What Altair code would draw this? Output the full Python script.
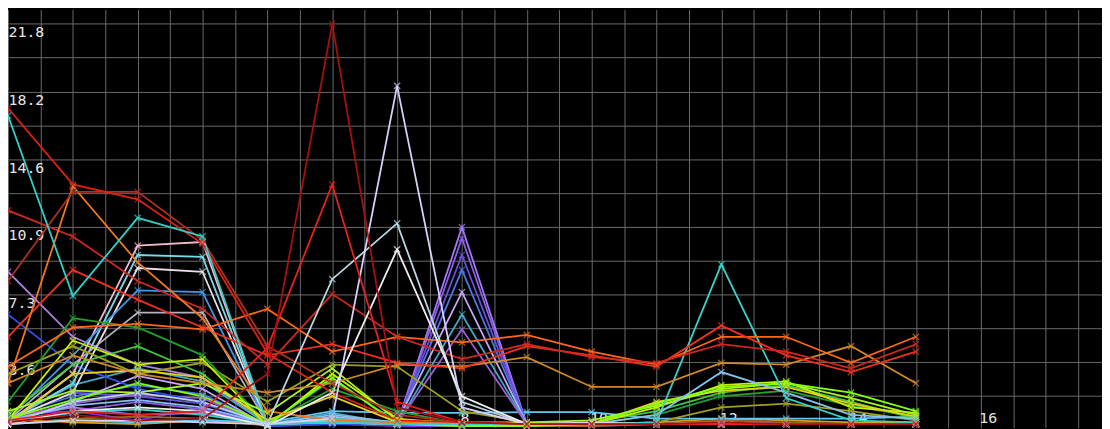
import altair as alt
import pandas as pd

# x positions (category index 1..15)
x_values = list(range(1, 16))

# tick labels shown in the picture
x_tick_labels = ["2", "4", "6", "8", "10", "12", "14", "16"]
y_tick_labels = ["3.6", "7.3", "10.9", "14.6", "18.2", "21.8"]

# ---- series values ----
red_tall      = [0.4, 0.8, 0.5, 0.6, 3.0, 21.84, 1.2, 0.4, 0.3, 0.3, 0.3, 0.4, 0.3, 0.3, 0.3]
red_mid       = [0.5, 1.0, 0.8, 1.0, 4.4, 13.2, 1.5, 0.4, 0.3, 0.3, 0.3, 0.3, 0.3, 0.3, 0.3]
white_peak    = [0.3, 0.5, 0.5, 0.4, 0.3, 0.6, 18.5, 1.2, 0.3, 0.4, 0.3, 0.3, 0.3, 0.3, 0.3]
cyan_grey_pk  = [0.3, 1.5, 2.0, 1.5, 0.3, 8.1, 11.1, 1.5, 0.3, 0.3, 0.3, 0.4, 0.3, 0.3, 0.3]
white_pk2     = [0.3, 1.0, 1.2, 1.0, 0.2, 2.0, 9.7, 1.8, 0.3, 0.3, 0.3, 0.3, 0.3, 0.3, 0.3]
orange_a      = [3.4, 5.5, 5.7, 5.4, 6.5, 4.2, 5.0, 4.7, 5.1, 4.2, 3.5, 5.0, 5.0, 3.6, 5.0]
ochre_b       = [2.5, 4.0, 3.0, 2.5, 2.0, 2.5, 3.5, 3.4, 3.9, 2.3, 2.3, 3.6, 3.5, 4.5, 2.5]
red_c         = [5.0, 8.6, 7.0, 5.5, 4.0, 4.6, 3.6, 3.3, 4.5, 4.0, 3.4, 5.6, 4.0, 3.1, 4.2]
red_d         = [11.8, 10.4, 8.0, 6.5, 3.5, 7.3, 5.0, 3.8, 4.6, 3.9, 3.6, 4.6, 4.2, 3.3, 4.6]
red_top       = [17.3, 13.2, 12.4, 10.0, 4.1, 2.0, 0.5, 0.4, 0.3, 0.3, 0.3, 0.3, 0.3, 0.3, 0.3]
cyan_top      = [16.9, 7.2, 11.4, 10.4, 0.3, 0.4, 0.3, 0.3, 0.3, 0.3, 0.3, 0.3, 0.3, 0.3, 0.3]
orange_up     = [2.5, 13.1, 9.0, 6.0, 1.0, 0.5, 0.4, 0.3, 0.3, 0.3, 0.3, 0.3, 0.3, 0.3, 0.3]
brown_red     = [8.0, 12.8, 12.8, 10.2, 4.5, 2.5, 0.8, 0.4, 0.3, 0.3, 0.3, 0.3, 0.3, 0.3, 0.3]
pink          = [0.4, 3.0, 9.9, 10.1, 0.3, 0.4, 0.3, 0.3, 0.3, 0.3, 0.3, 0.3, 0.3, 0.3, 0.3]
light_cyan    = [0.5, 2.5, 9.4, 9.3, 0.3, 0.5, 0.3, 0.3, 0.3, 0.3, 0.3, 0.3, 0.3, 0.3, 0.3]
white_flat    = [0.5, 2.0, 8.7, 8.5, 0.3, 0.4, 0.3, 0.3, 0.3, 0.3, 0.3, 0.3, 0.3, 0.3, 0.3]
blue_flat     = [0.6, 4.0, 7.5, 7.4, 0.3, 0.4, 0.3, 0.3, 0.3, 0.3, 0.3, 0.3, 0.3, 0.3, 0.3]
grey_flat     = [0.5, 3.5, 6.3, 6.3, 0.3, 0.4, 0.3, 0.3, 0.3, 0.3, 0.3, 0.3, 0.3, 0.3, 0.3]
purple_start  = [8.5, 5.0, 3.5, 2.8, 0.3, 0.4, 0.3, 0.3, 0.3, 0.3, 0.3, 0.3, 0.3, 0.3, 0.3]
blue_start    = [6.2, 3.5, 2.2, 1.5, 0.2, 0.3, 0.3, 0.3, 0.3, 0.3, 0.3, 0.3, 0.3, 0.3, 0.3]
violet_p1     = [0.6, 1.2, 0.8, 0.9, 0.3, 0.5, 0.3, 10.9, 0.3, 0.3, 0.3, 0.3, 0.3, 0.3, 0.3]
violet_p2     = [0.4, 1.0, 1.5, 1.1, 0.2, 0.4, 0.3, 10.3, 0.3, 0.3, 0.3, 0.3, 0.3, 0.3, 0.3]
violet_p3     = [0.5, 2.0, 1.8, 1.4, 0.3, 0.6, 0.3, 9.4, 0.3, 0.3, 0.3, 0.3, 0.3, 0.3, 0.3]
blue_p4       = [0.7, 1.8, 2.4, 1.9, 0.3, 0.5, 0.3, 8.6, 0.3, 0.3, 0.3, 0.3, 0.3, 0.3, 0.3]
lilac_p5      = [0.4, 1.5, 2.9, 2.2, 0.2, 0.7, 0.4, 7.4, 0.3, 0.3, 0.3, 0.3, 0.3, 0.3, 0.3]
teal_p6       = [0.5, 2.4, 3.3, 2.6, 0.3, 0.9, 0.3, 6.2, 0.3, 0.3, 0.3, 0.3, 0.3, 0.3, 0.3]
purple_p7     = [0.6, 1.4, 1.9, 1.7, 0.2, 0.5, 0.3, 5.4, 0.3, 0.3, 0.3, 0.3, 0.3, 0.3, 0.3]
cyan_12       = [0.4, 0.9, 1.1, 0.8, 0.3, 0.6, 0.4, 0.3, 0.3, 0.3, 0.4, 8.9, 1.7, 0.5, 0.4]
light_blue_12 = [0.5, 1.3, 1.6, 1.2, 0.3, 0.8, 0.4, 0.3, 0.3, 0.3, 0.8, 3.1, 2.0, 0.8, 0.6]
olive         = [3.0, 4.5, 3.0, 3.6, 1.5, 3.5, 3.4, 1.0, 0.4, 0.3, 0.4, 1.2, 1.4, 1.0, 0.5]
dark_green    = [1.5, 6.0, 5.5, 4.0, 0.3, 2.2, 1.0, 0.3, 0.3, 0.3, 0.8, 1.8, 2.1, 1.3, 0.7]
green         = [0.8, 3.5, 4.5, 3.0, 0.3, 2.7, 0.4, 0.3, 0.3, 0.4, 1.0, 2.0, 2.4, 1.5, 0.6]
yellow_green  = [0.5, 4.8, 3.5, 3.8, 0.2, 3.0, 0.6, 0.3, 0.3, 0.3, 1.2, 2.4, 2.6, 1.2, 0.9]
yellow        = [0.3, 3.0, 3.2, 2.8, 0.5, 1.8, 0.4, 0.3, 0.3, 0.3, 1.5, 2.1, 2.3, 1.4, 0.7]
lime          = [1.0, 2.1, 2.0, 2.5, 0.9, 3.3, 0.5, 0.4, 0.4, 0.5, 1.3, 2.2, 2.5, 1.7, 0.8]
chartreuse    = [0.6, 1.6, 2.5, 1.8, 0.3, 2.8, 0.3, 0.2, 0.2, 0.3, 1.4, 2.3, 2.5, 2.0, 1.0]
purple_low    = [0.8, 1.0, 0.5, 1.2, 0.2, 0.3, 0.2, 0.2, 0.2, 0.2, 0.3, 0.4, 0.3, 0.3, 0.3]
sky_flat      = [0.3, 0.5, 0.4, 0.5, 0.4, 1.0, 0.9, 0.9, 0.95, 0.95, 0.6, 0.6, 0.6, 0.6, 0.7]
amber_low     = [0.6, 0.4, 0.3, 0.5, 0.3, 0.6, 0.4, 0.3, 0.3, 0.3, 0.4, 0.6, 0.5, 0.4, 0.4]
brown_low     = [0.3, 0.6, 0.7, 0.6, 0.2, 0.4, 0.3, 0.2, 0.2, 0.2, 0.3, 0.5, 0.4, 0.3, 0.3]

series_names = [
    "purple_low", "amber_low", "brown_low", "sky_flat",
    "violet_p1", "violet_p2", "violet_p3", "blue_p4", "lilac_p5", "teal_p6", "purple_p7",
    "purple_start", "blue_start",
    "pink", "light_cyan", "white_flat", "blue_flat", "grey_flat",
    "olive", "dark_green", "green", "yellow_green", "yellow", "lime", "chartreuse",
    "cyan_12", "light_blue_12",
    "ochre_b", "orange_a", "red_c", "red_d",
    "orange_up", "brown_red", "red_top", "cyan_top",
    "cyan_grey_pk", "white_pk2", "white_peak",
    "red_mid", "red_tall",
]
series_values = [
    purple_low, amber_low, brown_low, sky_flat,
    violet_p1, violet_p2, violet_p3, blue_p4, lilac_p5, teal_p6, purple_p7,
    purple_start, blue_start,
    pink, light_cyan, white_flat, blue_flat, grey_flat,
    olive, dark_green, green, yellow_green, yellow, lime, chartreuse,
    cyan_12, light_blue_12,
    ochre_b, orange_a, red_c, red_d,
    orange_up, brown_red, red_top, cyan_top,
    cyan_grey_pk, white_pk2, white_peak,
    red_mid, red_tall,
]
series_colors = [
    "#8a2be2", "#e0a010", "#9a6a20", "#60c8f8",
    "#a878f8", "#8a60e8", "#6a50d8", "#4878e8", "#c8a8f8", "#40a8c8", "#9860d8",
    "#b080e0", "#3050e8",
    "#f0b8d0", "#78d8e8", "#e8e0e8", "#3c98e8", "#b8b0c0",
    "#a0a020", "#20a030", "#40c840", "#c8f000", "#e8d020", "#a8f820", "#80ff10",
    "#38d0c8", "#88c0f0",
    "#d08828", "#ff6818", "#f03020", "#d02820",
    "#f07820", "#b03020", "#e02010", "#30d0c8",
    "#b8d8e0", "#f0f0f0", "#d8d0f8",
    "#e82020", "#a81010",
]

rows = []
for name, vals in zip(series_names, series_values):
    for xv, yv in zip(x_values, vals):
        rows.append({"series": name, "x": xv, "y": yv})
df = pd.DataFrame(rows)

x_grid = [1 + 0.5 * k for k in range(34)]
y_grid = [round(1.82 * k, 2) for k in range(13)]

x_list = "[" + ",".join("'%s'" % s for s in x_tick_labels) + "]"
y_list = "[" + ",".join("'%s'" % s for s in y_tick_labels) + "]"
x_label_expr = "indexof(%s, '' + datum.value) >= 0 ? '' + datum.value : ''" % x_list
y_label_expr = "indexof(%s, format(datum.value, '.1f')) >= 0 ? format(datum.value, '.1f') : ''" % y_list

common_axis = dict(
    grid=True, gridColor="#6a6a6a", gridWidth=1,
    ticks=False, domain=False, title=None,
    labelColor="#e6e6e6", labelFont="DejaVu Sans Mono", labelFontSize=15,
    labelOverlap=False, labelFlush=False, labelBound=False,
)

x_enc = alt.X(
    "x:Q",
    scale=alt.Scale(domain=[1, 17.87], nice=False, zero=False),
    axis=alt.Axis(
        values=x_grid, labelExpr=x_label_expr,
        labelAlign="left", labelBaseline="bottom", labelPadding=-2, labelOffset=-2,
        **common_axis,
    ),
)
y_enc = alt.Y(
    "y:Q",
    scale=alt.Scale(domain=[0.12, 22.61], nice=False, zero=False),
    axis=alt.Axis(
        values=y_grid, labelExpr=y_label_expr,
        labelAlign="left", labelBaseline="top", labelPadding=0, labelOffset=1,
        **common_axis,
    ),
)
color_enc = alt.Color(
    "series:N",
    scale=alt.Scale(domain=series_names, range=series_colors),
    legend=None,
)

base = alt.Chart(df).encode(x=x_enc, y=y_enc, color=color_enc)
lines = base.mark_line(strokeWidth=1.8).encode(
    detail="series:N", order=alt.Order("x:Q")
)
points = base.mark_point(
    shape="M-1,-1L1,1M-1,1L1,-1", size=40, filled=False, strokeWidth=1.4
)

chart = (
    alt.layer(lines, points)
    .properties(width=1102, height=421, padding=0,
                autosize=alt.AutoSizeParams(type="none"), background="#000000")
    .configure_view(fill="#000000", stroke=None)
)

chart.save("out.html", embed_options={"renderer": "svg", "actions": False})
